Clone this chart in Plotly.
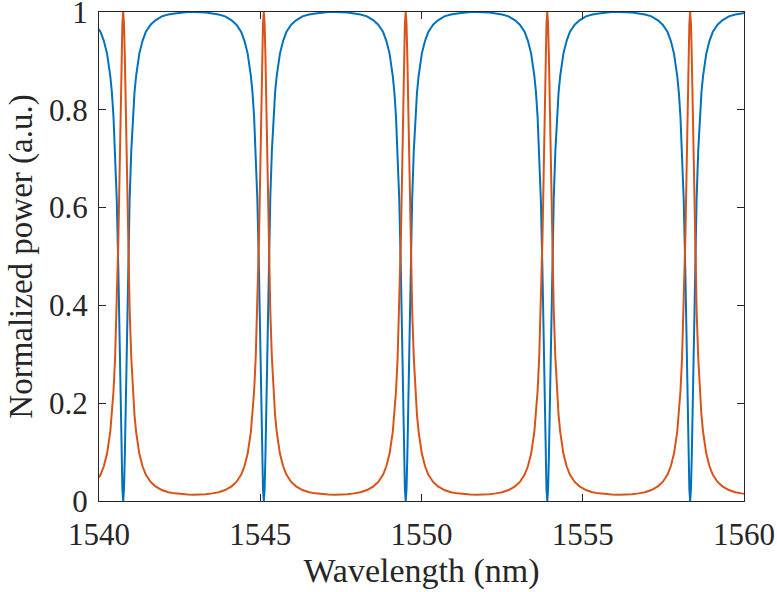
import plotly.graph_objects as go

# Wavelength samples (nm), grouped by resonance
wavelength = [
    1540.00, 1540.05, 1540.15, 1540.25, 1540.35, 1540.40, 1540.45, 1540.50, 1540.55, 1540.60, 1540.625, 1540.65, 1540.675, 1540.70, 1540.725,
    1540.75,
    1540.775, 1540.80, 1540.825, 1540.85, 1540.875, 1540.90, 1540.95, 1541.00, 1541.05, 1541.10, 1541.15, 1541.25, 1541.35, 1541.45, 1541.60, 1541.75, 1541.95, 1542.15, 1542.35, 1542.55, 1542.75,
    1542.93,
    1543.11, 1543.31, 1543.51, 1543.71, 1543.91, 1544.11, 1544.26, 1544.41, 1544.51, 1544.61, 1544.71, 1544.76, 1544.81, 1544.86, 1544.91, 1544.96, 1544.985, 1545.01, 1545.035, 1545.06, 1545.085,
    1545.11,
    1545.135, 1545.16, 1545.185, 1545.21, 1545.235, 1545.26, 1545.31, 1545.36, 1545.41, 1545.46, 1545.51, 1545.61, 1545.71, 1545.81, 1545.96, 1546.11, 1546.31, 1546.51, 1546.71, 1546.91, 1547.11,
    1547.31,
    1547.51, 1547.71, 1547.91, 1548.11, 1548.31, 1548.51, 1548.66, 1548.81, 1548.91, 1549.01, 1549.11, 1549.16, 1549.21, 1549.26, 1549.31, 1549.36, 1549.385, 1549.41, 1549.435, 1549.46, 1549.485,
    1549.51,
    1549.535, 1549.56, 1549.585, 1549.61, 1549.635, 1549.66, 1549.71, 1549.76, 1549.81, 1549.86, 1549.91, 1550.01, 1550.11, 1550.21, 1550.36, 1550.51, 1550.71, 1550.91, 1551.11, 1551.31, 1551.51,
    1551.705,
    1551.90, 1552.10, 1552.30, 1552.50, 1552.70, 1552.90, 1553.05, 1553.20, 1553.30, 1553.40, 1553.50, 1553.55, 1553.60, 1553.65, 1553.70, 1553.75, 1553.775, 1553.80, 1553.825, 1553.85, 1553.875,
    1553.90,
    1553.925, 1553.95, 1553.975, 1554.00, 1554.025, 1554.05, 1554.10, 1554.15, 1554.20, 1554.25, 1554.30, 1554.40, 1554.50, 1554.60, 1554.75, 1554.90, 1555.10, 1555.30, 1555.50, 1555.70, 1555.90,
    1556.115,
    1556.33, 1556.53, 1556.73, 1556.93, 1557.13, 1557.33, 1557.48, 1557.63, 1557.73, 1557.83, 1557.93, 1557.98, 1558.03, 1558.08, 1558.13, 1558.18, 1558.205, 1558.23, 1558.255, 1558.28, 1558.305,
    1558.33,
    1558.355, 1558.38, 1558.405, 1558.43, 1558.455, 1558.48, 1558.53, 1558.58, 1558.63, 1558.68, 1558.73, 1558.83, 1558.93, 1559.03, 1559.18, 1559.33, 1559.53, 1559.73, 1559.93, 1560.00,
]

# Through port (blue)
through_power = [
    0.965, 0.959, 0.941, 0.915, 0.869, 0.835, 0.785, 0.715, 0.617, 0.472, 0.383, 0.284, 0.182, 0.090, 0.024,
    0.000,
    0.024, 0.090, 0.182, 0.284, 0.383, 0.472, 0.617, 0.715, 0.785, 0.835, 0.869, 0.915, 0.941, 0.959, 0.974, 0.983, 0.991, 0.995, 0.997, 0.999, 1.000,
    1.000,
    1.000, 0.999, 0.997, 0.995, 0.991, 0.983, 0.974, 0.959, 0.941, 0.915, 0.869, 0.835, 0.785, 0.715, 0.617, 0.472, 0.383, 0.284, 0.182, 0.090, 0.024,
    0.000,
    0.024, 0.090, 0.182, 0.284, 0.383, 0.472, 0.617, 0.715, 0.785, 0.835, 0.869, 0.915, 0.941, 0.959, 0.974, 0.983, 0.991, 0.995, 0.997, 0.999, 1.000,
    1.000,
    1.000, 0.999, 0.997, 0.995, 0.991, 0.983, 0.974, 0.959, 0.941, 0.915, 0.869, 0.835, 0.785, 0.715, 0.617, 0.472, 0.383, 0.284, 0.182, 0.090, 0.024,
    0.000,
    0.024, 0.090, 0.182, 0.284, 0.383, 0.472, 0.617, 0.715, 0.785, 0.835, 0.869, 0.915, 0.941, 0.959, 0.974, 0.983, 0.991, 0.995, 0.997, 0.999, 1.000,
    1.000,
    1.000, 0.999, 0.997, 0.995, 0.991, 0.983, 0.974, 0.959, 0.941, 0.915, 0.869, 0.835, 0.785, 0.715, 0.617, 0.472, 0.383, 0.284, 0.182, 0.090, 0.024,
    0.000,
    0.024, 0.090, 0.182, 0.284, 0.383, 0.472, 0.617, 0.715, 0.785, 0.835, 0.869, 0.915, 0.941, 0.959, 0.974, 0.983, 0.991, 0.995, 0.997, 0.999, 1.000,
    1.000,
    1.000, 0.999, 0.997, 0.995, 0.991, 0.983, 0.974, 0.959, 0.941, 0.915, 0.869, 0.835, 0.785, 0.715, 0.617, 0.472, 0.383, 0.284, 0.182, 0.090, 0.024,
    0.000,
    0.024, 0.090, 0.182, 0.284, 0.383, 0.472, 0.617, 0.715, 0.785, 0.835, 0.869, 0.915, 0.941, 0.959, 0.974, 0.983, 0.991, 0.995, 0.997, 0.998,
]

# Drop port (orange)
drop_power = [
    0.048, 0.054, 0.071, 0.097, 0.142, 0.176, 0.225, 0.294, 0.392, 0.534, 0.622, 0.720, 0.820, 0.911, 0.976,
    1.000,
    0.976, 0.911, 0.820, 0.720, 0.622, 0.534, 0.392, 0.294, 0.225, 0.176, 0.142, 0.097, 0.071, 0.054, 0.039, 0.030, 0.0225, 0.018, 0.0156, 0.014, 0.0132,
    0.013,
    0.0132, 0.014, 0.0156, 0.018, 0.0225, 0.030, 0.039, 0.054, 0.071, 0.097, 0.142, 0.176, 0.225, 0.294, 0.392, 0.534, 0.622, 0.720, 0.820, 0.911, 0.976,
    1.000,
    0.976, 0.911, 0.820, 0.720, 0.622, 0.534, 0.392, 0.294, 0.225, 0.176, 0.142, 0.097, 0.071, 0.054, 0.039, 0.030, 0.0225, 0.018, 0.0156, 0.014, 0.0132,
    0.013,
    0.0132, 0.014, 0.0156, 0.018, 0.0225, 0.030, 0.039, 0.054, 0.071, 0.097, 0.142, 0.176, 0.225, 0.294, 0.392, 0.534, 0.622, 0.720, 0.820, 0.911, 0.976,
    1.000,
    0.976, 0.911, 0.820, 0.720, 0.622, 0.534, 0.392, 0.294, 0.225, 0.176, 0.142, 0.097, 0.071, 0.054, 0.039, 0.030, 0.0225, 0.018, 0.0156, 0.014, 0.0132,
    0.013,
    0.0132, 0.014, 0.0156, 0.018, 0.0225, 0.030, 0.039, 0.054, 0.071, 0.097, 0.142, 0.176, 0.225, 0.294, 0.392, 0.534, 0.622, 0.720, 0.820, 0.911, 0.976,
    1.000,
    0.976, 0.911, 0.820, 0.720, 0.622, 0.534, 0.392, 0.294, 0.225, 0.176, 0.142, 0.097, 0.071, 0.054, 0.039, 0.030, 0.0225, 0.018, 0.0156, 0.014, 0.0132,
    0.013,
    0.0132, 0.014, 0.0156, 0.018, 0.0225, 0.030, 0.039, 0.054, 0.071, 0.097, 0.142, 0.176, 0.225, 0.294, 0.392, 0.534, 0.622, 0.720, 0.820, 0.911, 0.976,
    1.000,
    0.976, 0.911, 0.820, 0.720, 0.622, 0.534, 0.392, 0.294, 0.225, 0.176, 0.142, 0.097, 0.071, 0.054, 0.039, 0.030, 0.0225, 0.018, 0.0156, 0.015,
]

assert len(wavelength) == len(through_power) == len(drop_power)

x_ticks = [1540, 1545, 1550, 1555, 1560]
y_ticks = [0, 0.2, 0.4, 0.6, 0.8, 1]
y_tick_labels = ["0", "0.2", "0.4", "0.6", "0.8", "1"]

TEXT = "#262626"
FONT = "Liberation Serif, Times New Roman, serif"

fig = go.Figure()
fig.add_trace(go.Scatter(x=wavelength, y=through_power, mode="lines",
                         line=dict(color="#0072BD", width=2), name="Through"))
fig.add_trace(go.Scatter(x=wavelength, y=drop_power, mode="lines",
                         line=dict(color="#D95319", width=2), name="Drop"))

axis_common = dict(showline=True, linecolor=TEXT, linewidth=1, mirror="ticks",
                   ticks="inside", ticklen=7, tickwidth=1, tickcolor=TEXT,
                   showgrid=False, zeroline=False, ticklabeloverflow="allow",
                   automargin=False,
                   tickfont=dict(family=FONT, size=31, color=TEXT))

fig.update_xaxes(range=[1540, 1560], tickvals=x_ticks, ticklabelstandoff=6,
                 title=dict(text="Wavelength (nm)", font=dict(family=FONT, size=34, color=TEXT), standoff=4),
                 **axis_common)
fig.update_yaxes(range=[0, 1], tickvals=y_ticks, ticktext=y_tick_labels, ticklabelstandoff=4,
                 title=dict(text="Normalized power (a.u.)", font=dict(family=FONT, size=33, color=TEXT), standoff=6),
                 **axis_common)

fig.update_layout(width=777, height=592, showlegend=False,
                  margin=dict(l=99, r=33, t=12, b=91),
                  paper_bgcolor="white", plot_bgcolor="white",
                  font=dict(family=FONT, color=TEXT))

fig.write_html("out.html")
